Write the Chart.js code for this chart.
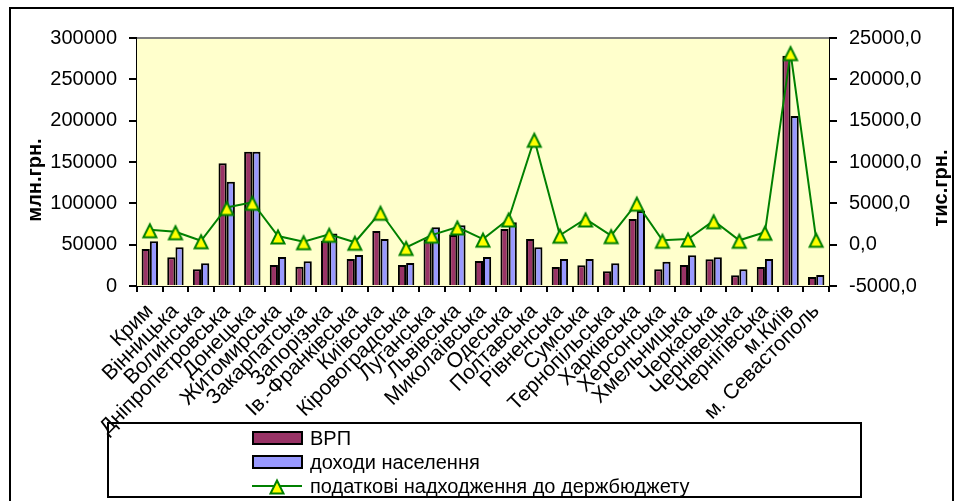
<!DOCTYPE html>
<html>
  <head>
    <meta charset="utf-8">
    <style type="text/css">
      body { margin: 0; background: #fff; }
      .chart-container { width: 959px; height: 501px; }
    </style>
  </head>
  <body>
    <script src="https://cdn.jsdelivr.net/npm/chart.js@4.4.1/dist/chart.umd.min.js"></script>

    <div class="chart-container">
      <canvas id="myChart"></canvas>
    </div>

    <script>
      /* datas */
      const regions = ["Крим", "Вінницька", "Волинська", "Дніпропетровська", "Донецька", "Житомирська",
        "Закарпатська", "Запорізька", "Ів.-Франківська", "Київська", "Кіровоградська", "Луганська",
        "Львівська", "Миколаївська", "Одеська", "Полтавська", "Рівненська", "Сумська", "Тернопільська",
        "Харківська", "Херсонська", "Хмельницька", "Черкаська", "Чернівецька", "Чернігівська",
        "м.Київ", "м. Севастополь"];

      // ВРП, млн.грн.
      const vrp = [44700, 34700, 20200, 148500, 162500, 25400, 23400, 54800, 32700, 66500, 25400, 56500,
        61700, 30300, 69000, 56900, 23000, 25000, 17700, 81000, 20200, 25400, 32300, 12900, 23000,
        278500, 10900];

      // доходи населення, млн.грн.
      const income = [54000, 46800, 27500, 126200, 162500, 35100, 29900, 63500, 37500, 56900, 27800, 71000,
        73400, 35100, 77000, 46800, 32700, 32700, 27400, 90800, 29400, 37100, 34700, 20200, 32700,
        205700, 13300];

      // податкові надходження до держбюджету, тис.грн.
      const taxes = [1800, 1560, 470, 4500, 5130, 1050, 360, 1260, 290, 3920, -340, 1150,
        2140, 670, 3110, 12750, 1140, 3110, 1090, 5020, 530, 690, 2890, 530, 1500,
        23230, 650];

      const legendLabels = ["ВРП", "доходи населення", "податкові надходження до держбюджету"];

      Chart.defaults.font.family = "'Liberation Sans', Arial, sans-serif";
      Chart.defaults.color = '#000';

      /* yellow triangle marker, like the excel one */
      function makeTriangle() {
        const c = document.createElement('canvas');
        c.width = 18; c.height = 24;
        const g = c.getContext('2d');
        g.beginPath();
        g.moveTo(9, 6.5);
        g.lineTo(15.5, 19.5);
        g.lineTo(2.5, 19.5);
        g.closePath();
        g.fillStyle = '#FFFF00';
        g.fill();
        g.strokeStyle = '#008000';
        g.lineWidth = 2;
        g.stroke();
        return c;
      }
      const tri = makeTriangle();

      /* plot background, titles, legend box, frame */
      const decor = {
        id: 'decor',
        beforeDatasetsDraw(chart) {
          const { ctx, chartArea: a } = chart;
          ctx.save();
          ctx.fillStyle = '#FFFFCC';
          ctx.fillRect(a.left, a.top, a.right - a.left, a.bottom - a.top);
          ctx.strokeStyle = '#808080';
          ctx.lineWidth = 2;
          ctx.beginPath();
          ctx.moveTo(a.left, a.top);
          ctx.lineTo(a.right, a.top);
          ctx.stroke();
          ctx.restore();
        },
        afterDraw(chart) {
          const ctx = chart.ctx;
          const ds = chart.data.datasets;
          ctx.save();

          // axis titles
          ctx.font = "bold 20px 'Liberation Sans', Arial, sans-serif";
          ctx.fillStyle = '#000';
          ctx.textAlign = 'center';
          ctx.textBaseline = 'middle';
          [['млн.грн.', 35, 180], ['тис.грн.', 941, 188]].forEach(([t, x, y]) => {
            ctx.save();
            ctx.translate(x, y);
            ctx.rotate(-Math.PI / 2);
            ctx.fillText(t, 0, 0);
            ctx.restore();
          });

          // legend
          ctx.strokeStyle = '#000';
          ctx.lineWidth = 2;
          ctx.strokeRect(108, 423, 753, 74);
          ctx.font = "20px 'Liberation Sans', Arial, sans-serif";
          ctx.textAlign = 'left';
          const rows = [438, 462, 486];
          ds.forEach((d, i) => {
            const y = rows[i];
            if (d.type === 'line') {
              ctx.strokeStyle = d.borderColor;
              ctx.beginPath();
              ctx.moveTo(252, y);
              ctx.lineTo(302, y);
              ctx.stroke();
              ctx.drawImage(tri, 277 - 9, y - 12);
            } else {
              ctx.fillStyle = d.backgroundColor;
              ctx.fillRect(253, y - 6, 49, 12);
              ctx.strokeStyle = '#000';
              ctx.strokeRect(253, y - 6, 49, 12);
            }
            ctx.fillStyle = '#000';
            ctx.fillText(d.label, 310, y + 1);
          });

          // chart frame
          ctx.lineWidth = 2;
          ctx.strokeStyle = '#000';
          ctx.strokeRect(10, 8, 943, 510);
          ctx.restore();
        }
      };

      const myChart = new Chart('myChart', {
        data: {
          labels: regions,
          datasets: [
            {
              type: 'bar',
              label: legendLabels[0],
              data: vrp,
              backgroundColor: '#993366',
              borderColor: '#000',
              borderWidth: 2,
              categoryPercentage: 0.64,
              barPercentage: 1.0,
              yAxisID: 'y',
              order: 1
            },
            {
              type: 'bar',
              label: legendLabels[1],
              data: income,
              backgroundColor: '#9999FF',
              borderColor: '#000',
              borderWidth: 2,
              categoryPercentage: 0.64,
              barPercentage: 1.0,
              yAxisID: 'y',
              order: 1
            },
            {
              type: 'line',
              label: legendLabels[2],
              data: taxes,
              borderColor: '#008000',
              borderWidth: 2,
              tension: 0,
              pointStyle: tri,
              yAxisID: 'y1',
              order: 0
            }
          ]
        },
        options: {
          responsive: true,
          maintainAspectRatio: false,
          animation: false,
          layout: { padding: { left: 10, top: 38, right: 0, bottom: 0 } },
          plugins: {
            legend: { display: false },
            tooltip: { enabled: false }
          },
          scales: {
            x: {
              grid: { offset: true, drawOnChartArea: false, tickLength: 6, color: '#000', lineWidth: 2 },
              border: { color: '#000', width: 2 },
              ticks: { autoSkip: false, minRotation: 45, maxRotation: 45, padding: 7, font: { size: 21 } },
              afterFit: s => { s.height = 215; }
            },
            y: {
              position: 'left',
              min: 0,
              max: 300000,
              grid: { drawOnChartArea: false, tickLength: 8, color: '#000', lineWidth: 2 },
              border: { color: '#000', width: 2 },
              ticks: { stepSize: 50000, padding: 12, font: { size: 20 }, callback: v => String(v) },
              afterFit: s => { s.width = 127; }
            },
            y1: {
              position: 'right',
              min: -5000,
              max: 25000,
              grid: { drawOnChartArea: false, tickLength: 8, color: '#000', lineWidth: 2 },
              border: { color: '#000', width: 2 },
              ticks: {
                stepSize: 5000,
                padding: 12,
                font: { size: 20 },
                callback: v => v.toFixed(1).replace('.', ',')
              },
              afterFit: s => { s.width = 130; }
            }
          }
        },
        plugins: [decor]
      });
    </script>
  </body>
</html>
